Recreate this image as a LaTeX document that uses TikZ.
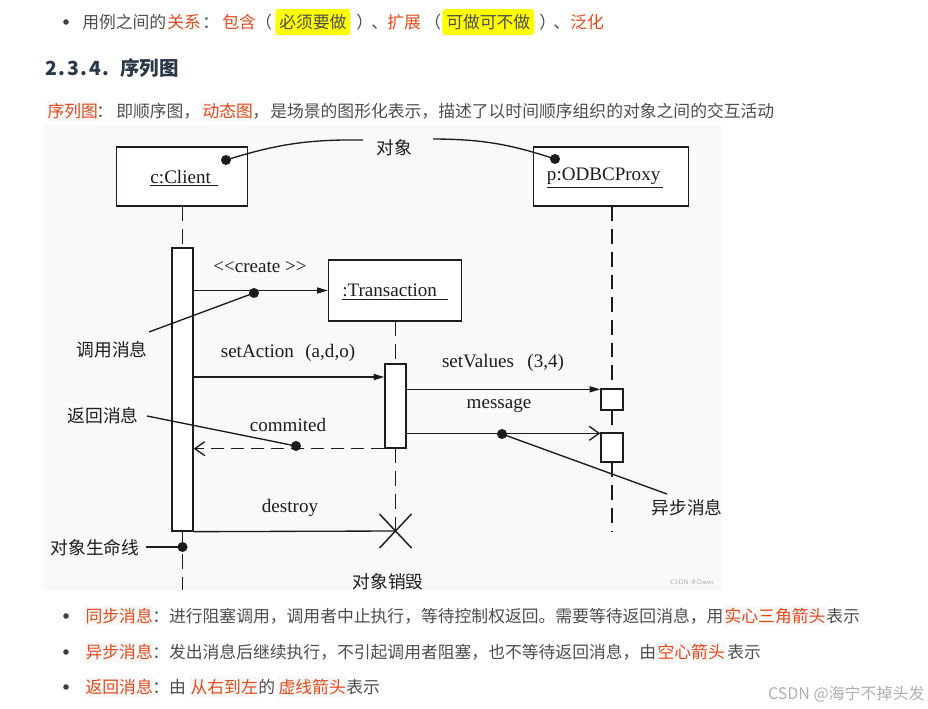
\documentclass[tikz,border=0pt]{standalone}
\usepackage{fontspec}
\setmainfont{Liberation Serif}
\newfontfamily\cjk{Noto Sans CJK SC}
\usetikzlibrary{arrows.meta,calc}

\definecolor{txtgray}{RGB}{77,77,77}
\definecolor{hlred}{RGB}{226,74,30}
\definecolor{headc}{RGB}{44,56,72}
\definecolor{panel}{RGB}{250,248,250}
\definecolor{ink}{RGB}{28,28,28}
\definecolor{mark}{RGB}{255,255,0}
\definecolor{keybg}{RGB}{249,248,249}
\definecolor{wm}{RGB}{175,175,175}

\begin{document}
\begin{tikzpicture}[x=0.75pt,y=-0.75pt,
  body/.style={font=\cjk\fontsize{12.6pt}{14pt}\selectfont, text=txtgray, inner sep=0, anchor=base west},
  key/.style={body, text=hlred, fill=keybg, rounded corners=1.5pt, inner xsep=1pt, inner ysep=2pt},
  hl/.style={body, fill=mark, rounded corners=2.5pt, inner xsep=3pt, inner ysep=4pt},
  bul/.style={circle, fill=txtgray!80!black, inner sep=0, minimum size=4.2pt},
  lbl/.style={font=\fontsize{14.3pt}{16pt}\selectfont, text=ink, inner sep=0},
  zh/.style={font=\cjk\fontsize{13.3pt}{15pt}\selectfont, text=ink, inner sep=0},
  obj/.style={draw=ink, line width=1pt, fill=white, inner sep=0},
  bar/.style={draw=ink, line width=1pt, fill=white, inner sep=0},
  life/.style={draw=ink, line width=1.1pt, dash pattern=on 11pt off 6pt},
  msg/.style={draw=ink, line width=1pt},
  sync/.style={msg, -{Triangle[length=8pt,width=4.5pt]}},
  async/.style={msg, -{Straight Barb[length=7.5pt,width=10.5pt]}},
  ret/.style={msg, dash pattern=on 10pt off 5pt, -{Straight Barb[length=7.5pt,width=10.5pt]}},
  pin/.style={circle, fill=ink, inner sep=0, minimum size=7.5pt},
  note/.style={draw=ink, line width=1pt},
]
\useasboundingbox (0,0) rectangle (928,709);
\fill[white] (0,0) rectangle (928,709);

% ---------- introductory bullet ----------
\node[bul] (b0) at (66,22) {};
\node[body] (u1) at (82,28.5) {用例之间的};
\node[body, text=hlred] (u2) at (167,28.5) {关系};
\node[body] (u3) at (202,28.5) {：};
\node[body, text=hlred] (u4) at (222,28.5) {包含};
\node[body] (u5) at (255,28.5) {（};
\node[hl] (u6) at (275,28.5) {必须要做};
\node[body] (u7) at (356,28.5) {）};
\node[body] (u8) at (371,28.5) {、};
\node[body, text=hlred] (u9) at (387,28.5) {扩展};
\node[body] (u10) at (424,28.5) {（};
\node[hl] (u11) at (442,28.5) {可做可不做};
\node[body] (u12) at (539,28.5) {）};
\node[body] (u13) at (553,28.5) {、};
\node[body, text=hlred] (u14) at (570,28.5) {泛化};

% ---------- heading ----------
\node[anchor=base west, inner sep=0, text=headc,
      font=\cjk\bfseries\fontsize{14.6pt}{16pt}\selectfont] (h1) at (45,76)
      {2\kern1.2pt.\kern1.2pt3\kern1.2pt.\kern1.2pt4\kern1.2pt.};
\node[anchor=base west, inner sep=0, text=headc,
      font=\cjk\bfseries\fontsize{14.6pt}{16pt}\selectfont] (h2) at (120,76) {序列图};

% ---------- paragraph ----------
\node[key] (q1) at (46,117.5) {序列图};
\node[body] (q2) at (96,117.5) {：};
\node[body] (q3) at (116,117.5) {即顺序图，};
\node[key] (q4) at (201,117.5) {动态图};
\node[body] (q5) at (252,117.5) {，};
\node[body] (q6) at (270,117.5) {是场景的图形化表示，描述了以时间顺序组织的对象之间的交互活动};

% ---------- sequence diagram ----------
\fill[panel] (44,125) rectangle (722,590);

% objects
\node[obj, minimum width=98.25pt, minimum height=44.25pt] (client) at (182,176.5) {};
\node[lbl] (clientT) at (184,178) {\underline{c:Client\kern5pt}};
\node[obj, minimum width=116.25pt, minimum height=44.25pt] (odbc) at (611,176.5) {};
\node[lbl] (odbcT) at (605,178) {\underline{p:ODBCProxy\kern2pt}};
\node[obj, minimum width=99.75pt, minimum height=45.75pt] (trans) at (395,290.5) {};
\node[lbl] (transT) at (395,292) {\underline{:Transaction\kern8pt}};

% activations
\node[bar, minimum width=15.75pt, minimum height=212.25pt] (actC) at (182.5,389.5) {};
\node[bar, minimum width=15.75pt, minimum height=63pt] (actT) at (395.5,406) {};
\node[bar, minimum width=16.5pt, minimum height=15.75pt] (box1) at (612,399.5) {};
\node[bar, minimum width=16.5pt, minimum height=21.75pt] (box2) at (612,447.5) {};

% free ends and destruction point
\coordinate (cEnd) at (182.5,590);
\coordinate (oEnd) at (612,532);
\coordinate (xdel) at (395.5,531);

% lifelines
\draw[life] (client.south -| actC) -- (actC.north);
\draw[life] (actC.south) -- (cEnd);
\draw[life] (trans.south -| actT) -- (actT.north);
\draw[life] (actT.south) -- (xdel);
\draw[life] (odbc.south -| box1) -- (box1.north);
\draw[life] (box1.south) -- (box2.north);
\draw[life] (box2.south) -- (oEnd);

% messages
\draw[sync] (actC.east |- trans.west) -- (trans.west);
\coordinate (saY) at (300,377);
\draw[sync] (actC.east |- saY) -- (actT.west |- saY);
\draw[sync] ($(actT.east |- box1.north)+(0,1)$) -- ($(box1.north west)+(0,1)$);
\draw[async] ($(actT.east |- box2.north)+(0,1)$) -- ($(box2.north west)+(0,1)$);
\draw[ret] (actT.south west) -- (actC.east |- actT.south);
\draw[msg] (actC.south east) -- (xdel);
\draw[msg, line width=1.1pt] ($(xdel)+(-16,-17)$) -- ($(xdel)+(16,17)$);
\draw[msg, line width=1.1pt] ($(xdel)+(16,-17)$) -- ($(xdel)+(-16,17)$);

% message labels
\node[lbl] (mCreate) at (260,267) {<\kern0pt<create >\kern0pt>};
\node[lbl] (mAction) at (288,353) {setAction\hspace{0.6em}(a,d,o)};
\node[lbl] (mValues) at (503,363) {setValues\hspace{0.7em}(3,4)};
\node[lbl] (mMsg) at (499,406) {message};
\node[lbl] (mRet) at (288,425) {commited};
\node[lbl] (mDel) at (290,508) {destroy};

% annotations
\node[zh] (nObj) at (394,148) {对象};
\coordinate (objL) at (363,140);
\coordinate (objR) at (433,139);
\node[pin] (p1) at (226,160) {};
\node[pin] (p2) at (555,159) {};
\draw[note] (p1.center) to[bend left=9] (objL);
\draw[note] (objR) to[bend left=9] (p2.center);

\node[zh] (nCall) at (112,350) {调用消息};
\coordinate (callEnd) at (149,332);
\node[pin] (p3) at (254,293) {};
\draw[note] (p3.center) -- (callEnd);

\node[zh] (nRet) at (103,416) {返回消息};
\coordinate (retEnd) at (147,416);
\node[pin] (p4) at (296,446) {};
\draw[note] (retEnd) -- (p4.center);

\node[zh] (nAsync) at (687,508) {异步消息};
\coordinate (asyEnd) at (667,494);
\node[pin] (p5) at (502,434) {};
\draw[note] (p5.center) -- (asyEnd);

\node[zh] (nLife) at (95,548) {对象生命线};
\coordinate (lifeEnd) at (146,547);
\node[pin] (p6) at (182.5,547) {};
\draw[note] (lifeEnd) -- (p6.center);

\node[zh] (nDel) at (388,582) {对象销毁};
\node[font=\sffamily\fontsize{5pt}{6pt}\selectfont, text=wm, inner sep=0] (wm1) at (692,582) {CSDN @\,Dawn};

% ---------- closing bullets ----------
\node[bul] (b1) at (66,616) {};
\node[key] (s1) at (84,622.5) {同步消息};
\node[body] (s2) at (152,622.5) {：进行阻塞调用，调用者中止执行，等待控制权返回。需要等待返回消息，用};
\node[key] (s3) at (723,622.5) {实心三角箭头};
\node[body] (s4) at (826,622.5) {表示};

\node[bul] (b2) at (66,652) {};
\node[key] (a1) at (84,658.5) {异步消息};
\node[body] (a2) at (152,658.5) {：发出消息后继续执行，不引起调用者阻塞，也不等待返回消息，由};
\node[key] (a3) at (656,658.5) {空心箭头};
\node[body] (a4) at (727,658.5) {表示};

\node[bul] (b3) at (66,687) {};
\node[key] (r1) at (84,693.5) {返回消息};
\node[body] (r2) at (152,693.5) {：由};
\node[key] (r3) at (189,693.5) {从右到左};
\node[body] (r4) at (258,693.5) {的};
\node[key] (r5) at (277,693.5) {虚线箭头};
\node[body] (r6) at (346,693.5) {表示};

\node[anchor=base east, inner sep=0, text=wm, font=\cjk\fontsize{12pt}{14pt}\selectfont] (wm2) at (925,699) {CSDN @海宁不掉头发};
\end{tikzpicture}
\end{document}
